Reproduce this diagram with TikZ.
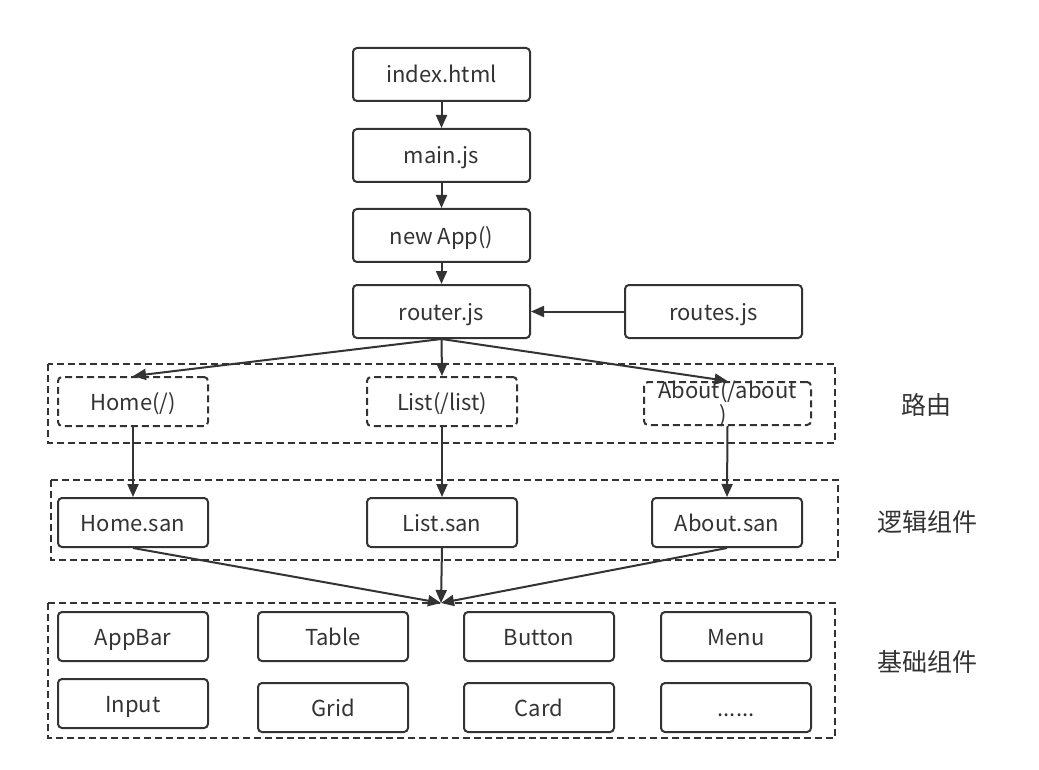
\documentclass[tikz,border=0pt]{standalone}
\usepackage{fontspec}
\setmainfont{Noto Sans CJK SC}
\usetikzlibrary{arrows.meta}
\definecolor{ink}{HTML}{333333}
\tikzset{
  every node/.style={font=\fontsize{22}{26}\selectfont, text=ink},
  txt/.style={text height=22pt, text depth=5pt},
  box/.style={txt, draw=ink, line width=2pt, rounded corners=4pt, minimum width=177pt, minimum height=53pt, inner sep=0pt},
  sbox/.style={txt, draw=ink, line width=2pt, rounded corners=4pt, minimum width=150pt, minimum height=49pt, inner sep=0pt},
  dbox/.style={sbox, dashed, dash pattern=on 7pt off 4pt},
  grp/.style={draw=ink, line width=1.8pt, dash pattern=on 7pt off 4pt},
  lbl/.style={font=\fontsize{25}{29}\selectfont},
  arr/.style={draw=ink, line width=2pt, -{Triangle[length=13pt,width=11pt]}},
}
\begin{document}
\begin{tikzpicture}[x=1pt,y=-1pt]
\useasboundingbox (0,0) rectangle (1039,770);
% top chain
\node[box] (index) at (441.5,74.5) {index.html};
\node[box] (main) at (441.5,155.5) {main.js};
\node[box] (app) at (441.5,235.5) {new App()};
\node[box] (router) at (441.5,311.5) {router.js};
\node[box] (routes) at (713.5,311.5) {routes.js};
% groups
\draw[grp] (48,364) rectangle (835,443);
\draw[grp] (51,480) rectangle (838,560);
\draw[grp] (48,603) rectangle (835,738);
\coordinate (g3top) at (441,603);
% route boxes
\node[dbox] (home) at (133,401.5) {Home(/)};
\node[dbox] (list) at (442,401.5) {List(/list)};
\node[dbox, minimum width=167pt, minimum height=43pt] (about) at (727.5,403.5) {};
\node[txt, inner sep=0pt] (abouttxt) at (727.5,389.5) {About(/about};
\node[txt, inner sep=0pt] (aboutpar) at (723.5,413.5) {)};
% logic components
\node[sbox] (homes) at (133,522.5) {Home.san};
\node[sbox] (lists) at (442,522.5) {List.san};
\node[sbox] (abouts) at (727,522.5) {About.san};
% base components
\node[sbox] (appbar) at (133,636.5) {AppBar};
\node[sbox] (table) at (333,636.5) {Table};
\node[sbox] (button) at (539,636.5) {Button};
\node[sbox] (menu) at (736,636.5) {Menu};
\node[sbox] (input) at (133,703.5) {Input};
\node[sbox] (grid) at (333,707.5) {Grid};
\node[sbox] (card) at (539,707.5) {Card};
\node[sbox] (more) at (736,707.5) {......};
% labels
\node[lbl] (l1) at (926,405) {路由};
\node[lbl] (l2) at (927,522) {逻辑组件};
\node[lbl] (l3) at (927,662) {基础组件};
% arrows
\draw[arr] (index) -- (main);
\draw[arr] (main) -- (app);
\draw[arr] (app) -- (router);
\draw[arr] (routes) -- (router);
\draw[arr] (router.south) -- (home.north);
\draw[arr] (router.south) -- (list.north);
\draw[arr] (router.south) -- (about.north);
\draw[arr] (home) -- (homes);
\draw[arr] (list) -- (lists);
\draw[arr] (about.south) -- (abouts.north);
\draw[arr] (homes.south) -- (g3top);
\draw[arr] (lists.south) -- (g3top);
\draw[arr] (abouts.south) -- (g3top);
\end{tikzpicture}
\end{document}
